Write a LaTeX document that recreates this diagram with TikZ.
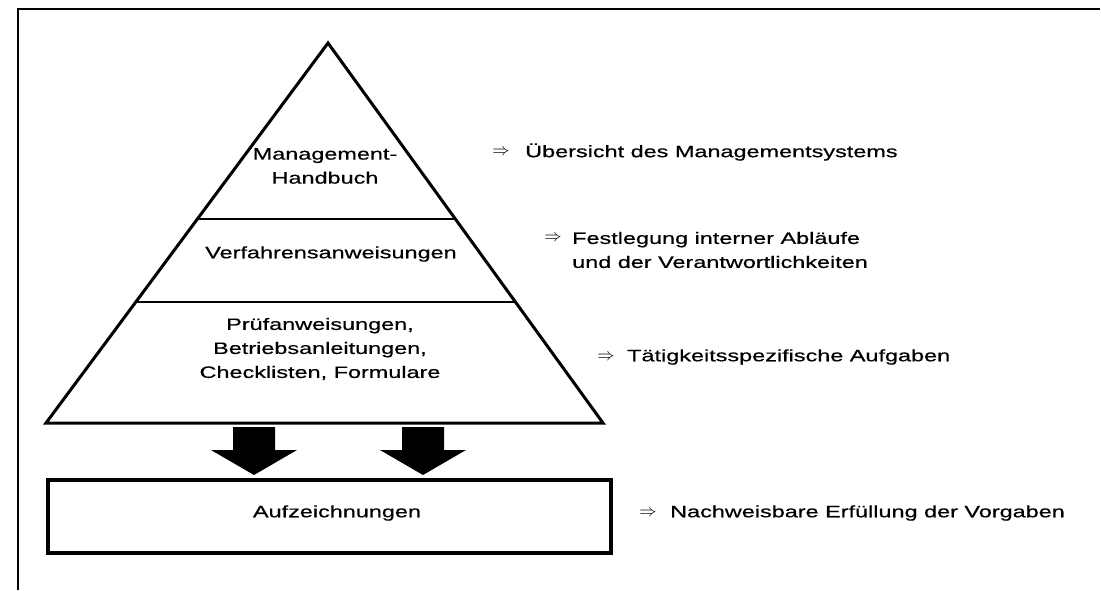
\documentclass[tikz,border=0pt]{standalone}
\usepackage{fontspec}
\setmainfont{Liberation Sans}[FakeStretch=1.42,FakeBold=0.6]
\usetikzlibrary{calc}
\begin{document}
\begin{tikzpicture}[x=1pt,y=-1pt,
  txt/.style={inner sep=0pt, font=\fontsize{16.5}{24}\selectfont, align=center},
  note/.style={txt, anchor=west, align=left},
  imp/.style={inner sep=0pt, font=\fontsize{17}{18}\selectfont},
  edge/.style={line width=3pt, line join=miter},
  layer/.style={line width=2.5pt},
  frame/.style={line width=2pt},
  blockarrow/.style={fill=black}]
\useasboundingbox (0,0) rectangle (1101,590);

% page frame
\draw[frame] (18,590) -- (18,9) -- (1100,9);

% pyramid
\coordinate (apex) at (328,43);
\coordinate (bl) at (46,423);
\coordinate (br) at (603,423);
\draw[edge] (apex) -- (br) -- (bl) -- cycle;
\draw[layer] ($(apex)!0.463!(bl)$) -- ($(apex)!0.463!(br)$);
\draw[layer] ($(apex)!0.682!(bl)$) -- ($(apex)!0.682!(br)$);

% pyramid levels
\node[txt] (handbuch) at (325,166) {Management-\\Handbuch};
\node[txt] (verfahren) at (331,254) {Verfahrensanweisungen};
\node[txt] (pruef) at (320,349) {Prüfanweisungen,\\Betriebsanleitungen,\\Checklisten, Formulare};

% block arrows down to the records
\foreach \n/\x in {a1/254, a2/423} {
  \coordinate (\n) at (\x,427);
  \fill[blockarrow] ($(\n)+(-21,0)$) -- ($(\n)+(21,0)$) -- ($(\n)+(21,23)$)
    -- ($(\n)+(43,23)$) -- ($(\n)+(0,48)$) -- ($(\n)+(-43,23)$)
    -- ($(\n)+(-21,23)$) -- cycle;
}

% records box
\node[draw, line width=3.5pt, minimum width=563pt, minimum height=73pt, inner sep=0pt] (rec) at (329.5,516.5) {};
\node[txt] (aufz) at (337,513) {Aufzeichnungen};

% explanations on the right
\node[imp] (i1) at (501,152) {$\Rightarrow$};
\node[note] (n1) at (525,152) {Übersicht des Managementsystems};
\node[imp] (i2) at (553,238) {$\Rightarrow$};
\node[note] (n2) at (572,250) {Festlegung interner Abläufe\\und der Verantwortlichkeiten};
\node[imp] (i3) at (606,357) {$\Rightarrow$};
\node[note] (n3) at (627,357) {Tätigkeitsspezifische Aufgaben};
\node[imp] (i4) at (648,513) {$\Rightarrow$};
\node[note] (n4) at (670,513) {Nachweisbare Erfüllung der Vorgaben};
\end{tikzpicture}
\end{document}
